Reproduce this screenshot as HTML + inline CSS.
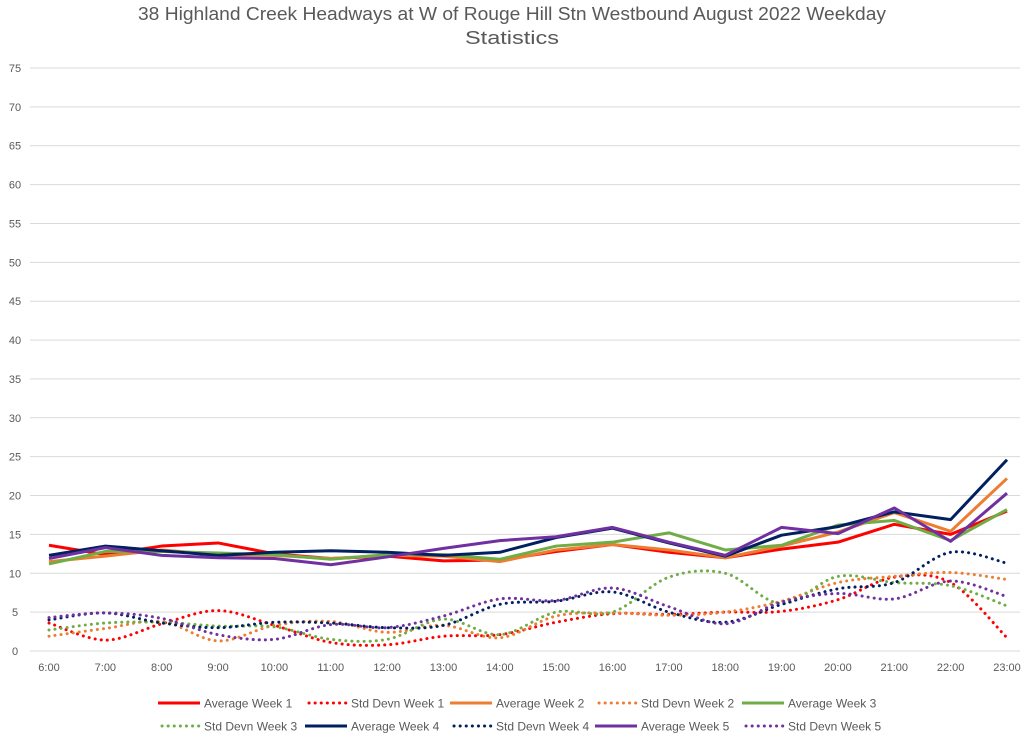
<!DOCTYPE html>
<html><head><meta charset="utf-8"><style>
body{margin:0;background:#fff;}
svg{display:block;font-family:"Liberation Sans",sans-serif;}
</style></head><body>
<svg id="chart" width="1024" height="738" viewBox="0 0 1024 738">
<rect width="1024" height="738" fill="#fff"/>
<text x="512" y="20" text-anchor="middle" font-size="18" fill="#595959" textLength="748" lengthAdjust="spacingAndGlyphs">38 Highland Creek Headways at W of Rouge Hill Stn Westbound August 2022 Weekday</text>
<text x="512" y="44" text-anchor="middle" font-size="18" fill="#595959" textLength="94" lengthAdjust="spacingAndGlyphs">Statistics</text>
<g id="grid"></g><g id="series"></g><g id="legend"></g>
</svg>
<script>
const categories=["6:00","7:00","8:00","9:00","10:00","11:00","12:00","13:00","14:00","15:00","16:00","17:00","18:00","19:00","20:00","21:00","22:00","23:00"];
const yTicks=[0,5,10,15,20,25,30,35,40,45,50,55,60,65,70,75];
const avgW1=[13.6,12.4,13.5,13.9,12.5,11.9,12.2,11.6,11.7,12.8,13.7,12.7,12.0,13.1,14.0,16.3,15.0,18.0];
const sdW1=[3.6,1.4,3.5,5.2,3.3,1.1,0.8,1.9,2.1,3.7,4.8,4.7,5.0,5.1,6.6,9.5,8.8,1.7];
const avgW2=[11.5,12.2,13.0,12.4,12.3,11.9,12.3,12.2,11.5,13.0,13.7,13.0,12.0,13.5,15.3,17.8,15.4,22.2];
const sdW2=[1.9,2.9,3.8,1.3,3.3,3.8,2.4,3.3,1.7,4.5,4.9,4.6,5.0,6.4,8.8,9.6,10.1,9.2];
const avgW3=[11.2,12.8,12.8,12.6,12.4,11.8,12.4,12.4,11.8,13.5,14.0,15.2,13.0,13.6,16.2,16.8,14.2,18.2];
const sdW3=[2.7,3.6,3.7,3.2,3.1,1.5,1.5,4.1,2.1,5.0,5.0,9.5,10.0,6.1,9.6,8.8,8.4,5.8];
const avgW4=[12.3,13.5,12.9,12.3,12.7,12.9,12.7,12.3,12.7,14.6,15.8,13.9,12.2,14.9,16.0,17.9,16.9,24.6];
const sdW4=[4.0,4.9,3.6,3.0,3.7,3.6,3.0,3.3,6.0,6.4,7.6,5.0,3.7,6.0,8.0,8.8,12.7,11.3];
const avgW5=[11.9,13.3,12.3,12.0,11.9,11.1,12.1,13.2,14.2,14.7,15.9,14.0,12.3,15.9,15.1,18.4,14.1,20.3];
const sdW5=[4.3,4.9,4.2,2.1,1.5,3.4,3.0,4.5,6.7,6.5,8.1,5.7,3.5,6.3,7.4,6.7,9.0,7.0];

const NS="http://www.w3.org/2000/svg";
const X0=49,X1=1007,Y0=651,Y75=68;
const x=i=>X0+(X1-X0)*i/(categories.length-1);
const y=v=>Y0-(Y0-Y75)*v/75;
function mk(t,a,p){const e=document.createElementNS(NS,t);for(const k in a)e.setAttribute(k,a[k]);p.appendChild(e);return e;}
const grid=document.getElementById('grid');
yTicks.forEach(v=>{
  const l=mk('line',{x1:30,x2:1020,y1:y(v),y2:y(v),stroke:'#d9d9d9','stroke-width':1},grid);
  
  
  const t=mk('text',{x:15,y:y(v)+4,'text-anchor':'middle','font-size':11,fill:'#595959'},grid);
  t.textContent=v;
  
  
});
categories.forEach((c,i)=>{
  const t=mk('text',{x:x(i),y:671,'text-anchor':'middle','font-size':11,fill:'#595959'},grid);
  t.textContent=c;
  
  
});
function smooth(vals){
  const p=vals.map((v,i)=>[x(i),y(v)]);let d='M'+p[0][0]+','+p[0][1];
  for(let i=0;i<p.length-1;i++){const p0=p[i-1]||p[i],p1=p[i],p2=p[i+1],p3=p[i+2]||p2;
    const c1=[p1[0]+(p2[0]-p0[0])/6,p1[1]+(p2[1]-p0[1])/6],c2=[p2[0]-(p3[0]-p1[0])/6,p2[1]-(p3[1]-p1[1])/6];
    d+=' C'+c1+' '+c2+' '+p2;}
  return d;
}
function straight(vals){return vals.map((v,i)=>(i?'L':'M')+x(i)+','+y(v)).join(' ');}
const series=[
 {n:'Average Week 1',d:avgW1,c:'#ff0000',dot:false},
 {n:'Std Devn Week 1',d:sdW1,c:'#ff0000',dot:true},
 {n:'Average Week 2',d:avgW2,c:'#ed7d31',dot:false},
 {n:'Std Devn Week 2',d:sdW2,c:'#ed7d31',dot:true},
 {n:'Average Week 3',d:avgW3,c:'#70ad47',dot:false},
 {n:'Std Devn Week 3',d:sdW3,c:'#70ad47',dot:true},
 {n:'Average Week 4',d:avgW4,c:'#002060',dot:false},
 {n:'Std Devn Week 4',d:sdW4,c:'#002060',dot:true},
 {n:'Average Week 5',d:avgW5,c:'#7030a0',dot:false},
 {n:'Std Devn Week 5',d:sdW5,c:'#7030a0',dot:true}];
const sg=document.getElementById('series');
series.forEach(s=>{
  const a={d:s.dot?smooth(s.d):straight(s.d),fill:'none',stroke:s.c,'stroke-width':s.dot?2.5:3,'stroke-linejoin':'round'};
  if(s.dot){a['stroke-dasharray']='0.1 6';a['stroke-linecap']='round';a['stroke-width']=3;}
  const p=mk('path',a,sg);
  
  
});
const cols=[158,305,450,595,742],rows=[703,726];
const lg=document.getElementById('legend');
series.forEach((s,i)=>{
  const cx=cols[i%5],cy=rows[Math.floor(i/5)];
  const g=mk('g',{},lg);
  
  
  const a={x1:cx,x2:cx+42,y1:cy,y2:cy,stroke:s.c,'stroke-width':3};
  if(s.dot){a['stroke-dasharray']='0.1 6';a['stroke-linecap']='round';a.x1=cx+4;}
  mk('line',a,g);
  const t=mk('text',{x:cx+46,y:cy+4.5,'font-size':12,fill:'#595959'},g);
  t.textContent=s.n;
});
</script>
</body></html>
